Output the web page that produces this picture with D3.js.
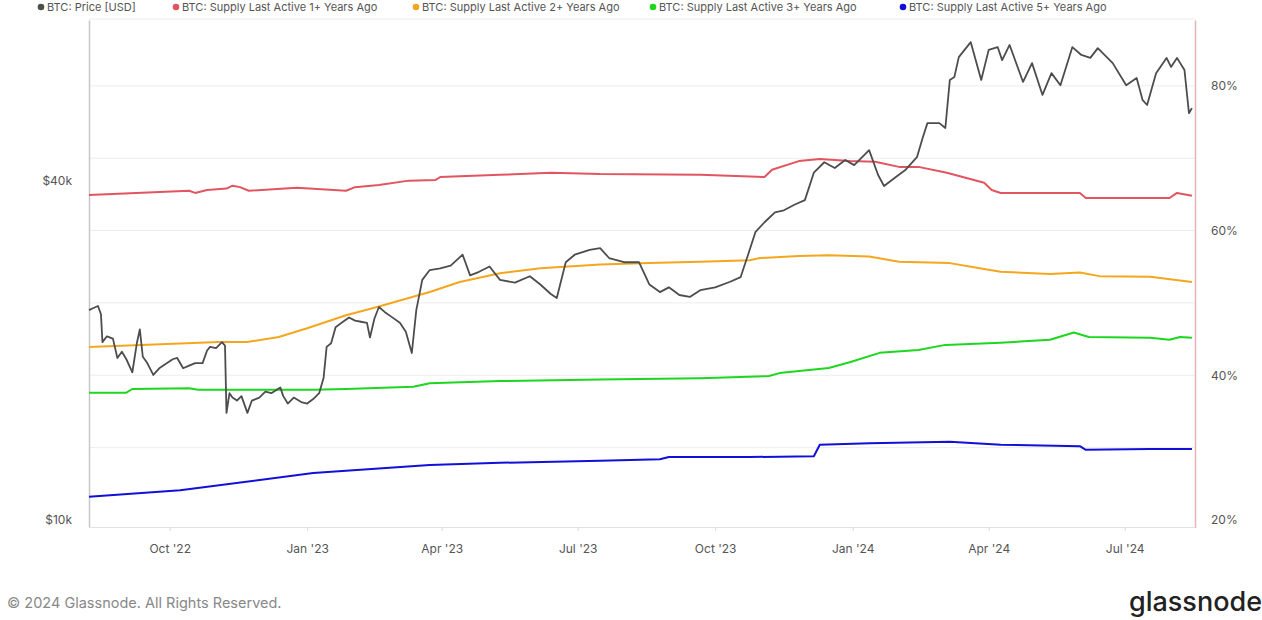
<!DOCTYPE html>
<html>
<head>
<meta charset="utf-8">
<script src="https://cdn.jsdelivr.net/npm/d3@7"></script>
<style>
  body { margin: 0; background: #fff; }
  svg { display: block; font-family: Inter, "Open Sans", sans-serif; }
</style>
</head>
<body>
<svg id="chart" width="1262" height="620"></svg>
<script>
// BTC price, thousands of USD
const priceData = [
  ["2022-08-08",23.6],["2022-08-11",23.8],["2022-08-14",24.0],["2022-08-16",23.2],["2022-08-17",20.7],
  ["2022-08-20",21.2],["2022-08-24",21.0],["2022-08-27",19.4],["2022-08-30",19.9],["2022-09-02",19.3],
  ["2022-09-06",18.3],["2022-09-09",20.6],["2022-09-11",21.8],["2022-09-13",19.5],["2022-09-16",19.0],
  ["2022-09-20",18.1],["2022-09-24",18.6],["2022-09-28",18.9],["2022-10-03",19.3],["2022-10-06",19.4],
  ["2022-10-10",18.6],["2022-10-14",18.8],["2022-10-18",19.0],["2022-10-23",19.0],["2022-10-26",20.0],
  ["2022-10-28",20.3],["2022-11-01",20.2],["2022-11-05",20.7],["2022-11-07",20.4],["2022-11-08",15.5],
  ["2022-11-10",16.8],["2022-11-12",16.5],["2022-11-15",16.3],["2022-11-18",16.6],["2022-11-22",15.5],
  ["2022-11-25",16.3],["2022-11-30",16.5],["2022-12-04",16.9],["2022-12-08",16.8],["2022-12-14",17.2],
  ["2022-12-16",16.6],["2022-12-19",16.1],["2022-12-23",16.5],["2022-12-28",16.2],["2023-01-01",16.1],
  ["2023-01-05",16.4],["2023-01-09",16.8],["2023-01-12",17.9],["2023-01-14",20.3],["2023-01-17",20.6],
  ["2023-01-20",22.0],["2023-01-24",22.4],["2023-01-29",22.9],["2023-02-02",22.6],["2023-02-06",22.5],
  ["2023-02-10",22.4],["2023-02-12",21.1],["2023-02-15",22.8],["2023-02-18",23.9],["2023-02-22",23.4],
  ["2023-02-26",23.0],["2023-03-04",22.4],["2023-03-08",21.6],["2023-03-12",19.8],["2023-03-15",23.6],
  ["2023-03-19",26.7],["2023-03-24",27.8],["2023-03-31",28.0],["2023-04-07",28.3],["2023-04-15",29.6],
  ["2023-04-20",27.2],["2023-04-26",27.6],["2023-05-03",28.2],["2023-05-10",26.7],["2023-05-20",26.4],
  ["2023-05-30",27.1],["2023-06-06",26.2],["2023-06-13",25.2],["2023-06-17",24.8],["2023-06-23",28.7],
  ["2023-06-29",29.6],["2023-07-09",30.2],["2023-07-16",30.4],["2023-07-22",29.2],["2023-08-01",28.7],
  ["2023-08-11",28.7],["2023-08-18",26.2],["2023-08-25",25.4],["2023-08-31",25.9],["2023-09-07",25.1],
  ["2023-09-14",24.9],["2023-09-21",25.6],["2023-10-01",25.9],["2023-10-11",26.5],["2023-10-18",27.0],
  ["2023-10-23",29.6],["2023-10-28",32.5],["2023-11-03",33.8],["2023-11-10",35.2],["2023-11-16",35.5],
  ["2023-11-23",36.3],["2023-11-30",37.0],["2023-12-06",41.4],["2023-12-13",43.2],["2023-12-20",42.2],
  ["2023-12-27",43.6],["2024-01-02",42.7],["2024-01-12",45.4],["2024-01-18",41.0],["2024-01-22",39.2],
  ["2024-01-29",40.5],["2024-02-05",41.8],["2024-02-13",44.1],["2024-02-17",47.9],["2024-02-20",50.7],
  ["2024-02-28",50.7],["2024-03-03",49.7],["2024-03-06",60.5],["2024-03-09",61.2],["2024-03-12",66.4],
  ["2024-03-20",70.6],["2024-03-27",60.5],["2024-04-01",68.4],["2024-04-07",69.2],["2024-04-10",65.6],
  ["2024-04-15",69.8],["2024-04-24",60.0],["2024-04-30",64.8],["2024-05-07",56.9],["2024-05-13",62.2],
  ["2024-05-19",59.2],["2024-05-27",69.2],["2024-06-02",67.0],["2024-06-08",66.2],["2024-06-13",68.9],
  ["2024-06-23",64.8],["2024-07-02",59.2],["2024-07-09",61.0],["2024-07-13",55.7],["2024-07-16",54.6],
  ["2024-07-22",62.2],["2024-07-29",66.2],["2024-08-01",63.8],["2024-08-05",66.2],["2024-08-10",63.0],
  ["2024-08-13",52.8],["2024-08-15",53.9]
];

// supply last active N+ years ago, % of supply
const supply1y = [
  ["2022-08-08",64.9],["2022-10-14",65.5],["2022-10-18",65.2],["2022-10-26",65.6],["2022-11-08",65.8],
  ["2022-11-12",66.2],["2022-11-17",66.0],["2022-11-23",65.5],["2022-12-25",65.9],["2023-01-27",65.5],
  ["2023-02-02",66.0],["2023-02-18",66.3],["2023-03-10",66.9],["2023-03-28",67.0],["2023-03-31",67.4],
  ["2023-05-10",67.7],["2023-06-13",68.0],["2023-07-16",67.8],["2023-09-21",67.7],["2023-11-03",67.4],
  ["2023-11-08",68.4],["2023-11-26",69.6],["2023-12-10",69.9],["2023-12-30",69.6],["2024-01-16",69.5],
  ["2024-02-01",68.8],["2024-02-14",68.8],["2024-03-04",68.0],["2024-03-29",66.6],["2024-04-03",65.6],
  ["2024-04-09",65.2],["2024-06-01",65.2],["2024-06-05",64.5],["2024-07-31",64.5],["2024-08-05",65.2],
  ["2024-08-15",64.8]
];
const supply2y = [
  ["2022-08-08",43.9],["2022-11-03",44.6],["2022-11-22",44.6],["2022-12-13",45.3],["2023-01-01",46.5],
  ["2023-01-27",48.3],["2023-02-18",49.5],["2023-03-24",51.5],["2023-04-13",52.9],["2023-05-10",54.1],
  ["2023-06-06",54.8],["2023-07-16",55.3],["2023-08-18",55.5],["2023-09-21",55.7],["2023-10-24",55.9],
  ["2023-10-31",56.2],["2023-11-26",56.5],["2023-12-16",56.6],["2024-01-12",56.4],["2024-02-01",55.7],
  ["2024-03-06",55.5],["2024-03-26",54.8],["2024-04-09",54.3],["2024-05-12",54.0],["2024-06-01",54.2],
  ["2024-06-14",53.7],["2024-07-18",53.6],["2024-08-15",52.9]
];
const supply3y = [
  ["2022-08-08",37.6],["2022-09-02",37.6],["2022-09-06",38.1],["2022-10-14",38.2],["2022-10-20",38.0],
  ["2023-01-05",38.0],["2023-01-27",38.1],["2023-03-13",38.4],["2023-03-24",38.9],["2023-05-10",39.2],
  ["2023-07-16",39.4],["2023-09-21",39.6],["2023-11-06",39.9],["2023-11-13",40.3],["2023-12-16",41.0],
  ["2023-12-30",41.8],["2024-01-19",43.1],["2024-02-14",43.5],["2024-03-03",44.2],["2024-04-09",44.5],
  ["2024-05-12",44.9],["2024-05-28",45.9],["2024-06-07",45.3],["2024-07-18",45.2],["2024-07-31",44.9],
  ["2024-08-07",45.3],["2024-08-15",45.2]
];
const supply5y = [
  ["2022-08-08",23.2],["2022-10-08",24.1],["2023-01-05",26.5],["2023-03-24",27.6],["2023-05-10",27.9],
  ["2023-07-16",28.2],["2023-08-25",28.4],["2023-08-31",28.7],["2023-10-24",28.7],["2023-12-06",28.8],
  ["2023-12-10",30.4],["2024-01-12",30.6],["2024-03-06",30.8],["2024-04-09",30.4],["2024-06-01",30.2],
  ["2024-06-05",29.7],["2024-07-18",29.8],["2024-08-15",29.8]
];

const seriesNames = [
  "BTC: Price [USD]",
  "BTC: Supply Last Active 1+ Years Ago",
  "BTC: Supply Last Active 2+ Years Ago",
  "BTC: Supply Last Active 3+ Years Ago",
  "BTC: Supply Last Active 5+ Years Ago"
];
const seriesColors = ["#4d4d4d", "#e05560", "#f4a71e", "#1fd61f", "#1010d8"];
const priceTicks = [10, 40];
const pctTicks = [20, 40, 60, 80];
const pctGrid = [30, 40, 50, 60, 70, 80];

const parse = d3.timeParse("%Y-%m-%d");
const svg = d3.select("#chart");
const pLeft = 89, pRight = 1195, pTop = 20, pBottom = 527;

let scX = d3.scaleTime()
            .domain([parse("2022-08-08"), parse("2024-08-18")])
            .range([pLeft, pLeft + 741 * 1.4945]);
let scPrice = d3.scaleLog()
                .domain([9.718, 77.3])
                .range([pBottom, pTop]);
let scPct = d3.scaleLinear()
              .domain([19.03, 89.1])
              .range([pBottom, pTop]);

// gridlines
svg.append("g")
  .selectAll("line")
  .data(pctGrid)
  .enter()
  .append("line")
  .attr("x1", pLeft).attr("x2", pRight)
  .attr("y1", d => scPct(d)).attr("y2", d => scPct(d))
  .attr("stroke", "#ededed").attr("stroke-width", 1);

// frame
svg.append("line").attr("x1", pLeft).attr("x2", pRight).attr("y1", pTop - 1).attr("y2", pTop - 1)
  .attr("stroke", "#ececec");

// x axis
let xAxis = svg.append("g")
  .attr("transform", `translate(0,${pBottom})`)
  .call(d3.axisBottom(scX)
          .ticks(d3.timeMonth.every(3))
          .tickFormat(d3.timeFormat("%b '%y"))
          .tickSizeInner(4).tickSizeOuter(0).tickPadding(13));
xAxis.select(".domain").attr("stroke", "#e2e2e2");
xAxis.selectAll(".tick line").attr("stroke", "#d8d8d8");
xAxis.selectAll("text").attr("fill", "#555").attr("font-size", 12).attr("font-family", "Inter, sans-serif");

// left axis (price, log)
let yAxisL = svg.append("g")
  .attr("transform", `translate(${pLeft},0)`)
  .call(d3.axisLeft(scPrice)
          .tickValues(priceTicks)
          .tickFormat(d => "$" + d + "k")
          .tickSize(0).tickPadding(17));
yAxisL.select(".domain").attr("stroke", "#c8c8c8").attr("stroke-width", 1.5);
yAxisL.selectAll("text").attr("fill", "#555").attr("font-size", 12).attr("font-family", "Inter, sans-serif");

// right axis (percent)
let yAxisR = svg.append("g")
  .attr("transform", `translate(${pRight},0)`)
  .call(d3.axisRight(scPct)
          .tickValues(pctTicks)
          .tickFormat(d => d + "%")
          .tickSize(0).tickPadding(16));
yAxisR.select(".domain").attr("stroke", "#e7b4b4").attr("stroke-width", 1.5);
yAxisR.selectAll("text").attr("fill", "#555").attr("font-size", 12).attr("font-family", "Inter, sans-serif");

// lines
let pctLine = d3.line()
                .x(d => scX(parse(d[0])))
                .y(d => scPct(d[1]));
[supply5y, supply3y, supply2y, supply1y].forEach((s, i) => {
  svg.append("path")
    .attr("fill", "none")
    .attr("stroke", seriesColors[4 - i])
    .attr("stroke-width", 2)
    .attr("stroke-linejoin", "round")
    .attr("d", pctLine(s));
});

let priceLine = d3.line()
                  .x(d => scX(parse(d[0])))
                  .y(d => scPrice(d[1]));
svg.append("path")
  .attr("fill", "none")
  .attr("stroke", seriesColors[0])
  .attr("stroke-width", 1.8)
  .attr("stroke-linejoin", "round")
  .attr("d", priceLine(priceData));

// legend
const legendX = [41, 176, 416, 653, 903];
let legend = svg.append("g")
  .selectAll("g")
  .data(seriesNames)
  .enter()
  .append("g")
  .attr("transform", (d, i) => `translate(${legendX[i]},7)`);
legend.append("circle").attr("r", 3.3).attr("fill", (d, i) => seriesColors[i]);
legend.append("text")
  .attr("x", 6).attr("dy", "0.35em")
  .attr("font-size", 11).attr("fill", "#555")
  .text(d => d);

// footer
svg.append("text")
  .attr("x", 7).attr("y", 608)
  .attr("font-size", 14.5).attr("fill", "#888")
  .text("© 2024 Glassnode. All Rights Reserved.");
svg.append("text")
  .attr("x", 1262).attr("y", 611)
  .attr("text-anchor", "end")
  .attr("font-size", 27).attr("font-weight", 500).attr("fill", "#222")
  .attr("font-family", "Inter, sans-serif")
  .text("glassnode");
</script>
</body>
</html>
